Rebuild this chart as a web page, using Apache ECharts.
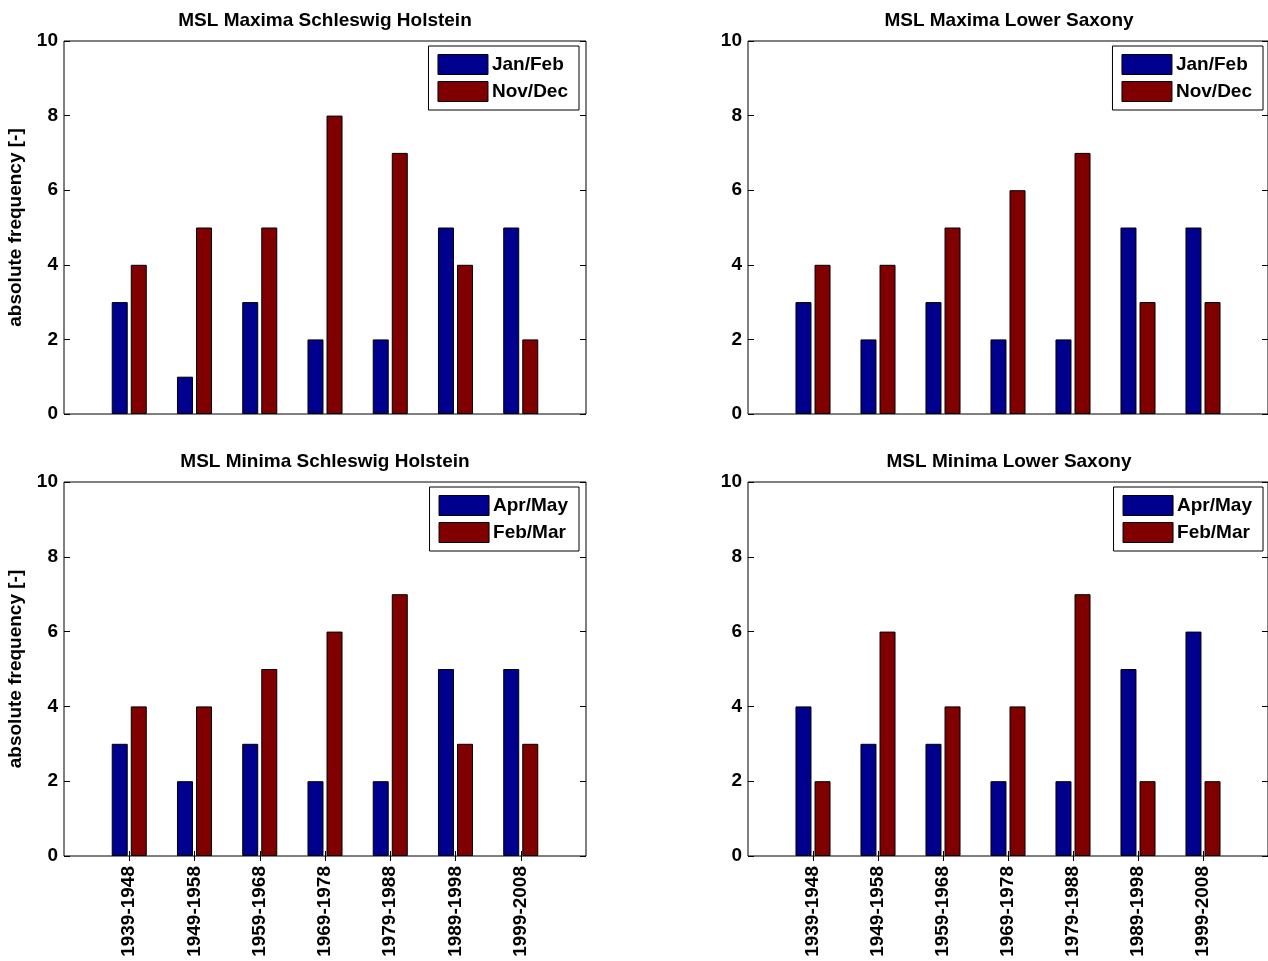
<!DOCTYPE html>
<html>
<head>
<meta charset="utf-8">
<title>MSL extremes – absolute frequency per decade</title>
<script src="https://cdn.jsdelivr.net/npm/echarts@6/dist/echarts.min.js"></script>
<style>
  html, body { margin: 0; padding: 0; background: #fff; }
  #chart { width: 1268px; height: 961px; }
</style>
</head>
<body>
<div id="chart"></div>
<script>
// Decades on the x axis
const periods = ['1939-1948', '1949-1958', '1959-1968', '1969-1978', '1979-1988', '1989-1998', '1999-2008'];

// MSL maxima, Schleswig Holstein
const maxShJanFeb = [3, 1, 3, 2, 2, 5, 5];
const maxShNovDec = [4, 5, 5, 8, 7, 4, 2];
// MSL maxima, Lower Saxony
const maxLsJanFeb = [3, 2, 3, 2, 2, 5, 5];
const maxLsNovDec = [4, 4, 5, 6, 7, 3, 3];
// MSL minima, Schleswig Holstein
const minShAprMay = [3, 2, 3, 2, 2, 5, 5];
const minShFebMar = [4, 4, 5, 6, 7, 3, 3];
// MSL minima, Lower Saxony
const minLsAprMay = [4, 3, 3, 2, 2, 5, 6];
const minLsFebMar = [2, 6, 4, 4, 7, 2, 2];

const yTicks = [0, 2, 4, 6, 8, 10];

const FONT = "'Liberation Sans', Arial, Helvetica, sans-serif";
const BLUE = '#00008f';
const RED = '#800000';

// x positions run 0..8 with the decades on 1..7
const cats = [''].concat(periods, ['']);
const pad = arr => ['-'].concat(arr, ['-']);

const panels = [
  { title: 'MSL Maxima Schleswig Holstein', names: ['Jan/Feb', 'Nov/Dec'], data: [maxShJanFeb, maxShNovDec], left: 64, top: 41, height: 373, labels: false, ylabel: true },
  { title: 'MSL Maxima Lower Saxony', names: ['Jan/Feb', 'Nov/Dec'], data: [maxLsJanFeb, maxLsNovDec], left: 748, top: 41, height: 373, labels: false, ylabel: false },
  { title: 'MSL Minima Schleswig Holstein', names: ['Apr/May', 'Feb/Mar'], data: [minShAprMay, minShFebMar], left: 64, top: 482, height: 374, labels: true, ylabel: true },
  { title: 'MSL Minima Lower Saxony', names: ['Apr/May', 'Feb/Mar'], data: [minLsAprMay, minLsFebMar], left: 748, top: 482, height: 374, labels: true, ylabel: false }
];
const W = 522;

const grid = [], xAxis = [], yAxis = [], series = [], title = [], legend = [];
const textBase = { fontFamily: FONT, fontWeight: 'bold', fontSize: 19, color: '#000' };

panels.forEach((p, i) => {
  grid.push({ left: p.left, top: p.top, width: W, height: p.height, show: true, borderColor: '#000', borderWidth: 1, backgroundColor: '#fff' });

  const tickIv = (idx) => idx > 0 && idx < cats.length - 1;
  // bottom category axis
  xAxis.push({
    type: 'category', gridIndex: i, data: cats, boundaryGap: false, position: 'bottom',
    axisLine: { show: false },
    axisTick: { show: p.labels, inside: true, length: 5, interval: tickIv, lineStyle: { color: '#000' } },
    axisLabel: { show: p.labels, rotate: 90, interval: 0, margin: 10, ...textBase },
    splitLine: { show: false }
  });
  // top axis carrying the upper tick marks
  xAxis.push({
    type: 'category', gridIndex: i, data: cats, boundaryGap: false, position: 'top',
    axisLine: { show: false },
    axisTick: { show: p.labels, inside: true, length: 5, interval: tickIv, lineStyle: { color: '#000' } },
    axisLabel: { show: false },
    splitLine: { show: false }
  });
  yAxis.push({
    type: 'value', gridIndex: i, min: yTicks[0], max: yTicks[yTicks.length - 1], interval: 2, position: 'left',
    name: p.ylabel ? 'absolute frequency [-]' : '', nameLocation: 'middle', nameGap: 39,
    nameTextStyle: { ...textBase },
    axisLine: { show: false },
    axisTick: { show: true, inside: true, length: 6, lineStyle: { color: '#000' } },
    axisLabel: { margin: 6, ...textBase },
    splitLine: { show: false }
  });
  yAxis.push({
    type: 'value', gridIndex: i, min: yTicks[0], max: yTicks[yTicks.length - 1], interval: 2, position: 'right',
    axisLine: { show: false },
    axisTick: { show: true, inside: true, length: 6, lineStyle: { color: '#000' } },
    axisLabel: { show: false },
    splitLine: { show: false }
  });

  [BLUE, RED].forEach((c, k) => {
    series.push({
      type: 'bar', name: p.names[k], xAxisIndex: 2 * i, yAxisIndex: 2 * i,
      data: pad(p.data[k]), barWidth: 16, barGap: '19%',
      itemStyle: { color: c, borderColor: '#000', borderWidth: 1 },
      emphasis: { disabled: true }
    });
  });

  title.push({
    text: p.title, left: p.left + W / 2, textAlign: 'center', top: p.top - 30, padding: 0,
    textStyle: { ...textBase }
  });

  legend.push({
    data: p.names, orient: 'vertical', right: 1268 - (p.left + W - 7), top: p.top + 5,
    padding: [8, 11, 8, 9], itemWidth: 50, itemHeight: 20, itemGap: 6,
    backgroundColor: '#fff', borderColor: '#000', borderWidth: 1, borderRadius: 0,
    icon: 'rect', selectedMode: false,
    itemStyle: { borderColor: '#000', borderWidth: 1 },
    textStyle: { ...textBase, lineHeight: 20, padding: [0, 0, 0, -1] }
  });
});

const chart = echarts.init(document.getElementById('chart'), null, { renderer: 'canvas' });
chart.setOption({
  animation: false,
  backgroundColor: '#fff',
  textStyle: { fontFamily: FONT },
  title, legend, grid, xAxis, yAxis, series
});
</script>
</body>
</html>
